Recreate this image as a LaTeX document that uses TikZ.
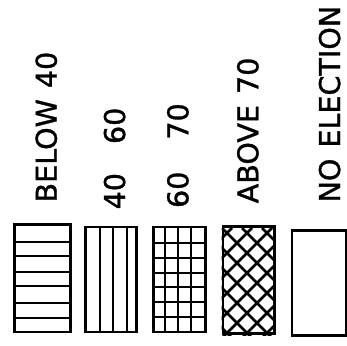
\documentclass[tikz,border=0pt]{standalone}
\usepackage{fontspec}
\setmainfont[FakeBold=1.2]{DejaVu Sans}
\begin{document}
\begin{tikzpicture}[x=1pt,y=1pt,
  legbox/.style={draw=black, line width=2.6pt, inner sep=0pt, anchor=south west},
  hatch/.style={line width=2pt, black},
  lab/.style={rotate=90, anchor=base west, inner sep=0pt, font=\fontsize{28.6}{31}\selectfont}]
\useasboundingbox (0,0) rectangle (347,345);
% boxes
\node[legbox, minimum width=55.7pt, minimum height=107.3pt] (b1) at (13.3,11.7) {};
\node[legbox, minimum width=50.7pt, minimum height=105pt] (b2) at (84.3,11.7) {};
\node[legbox, minimum width=52pt, minimum height=105pt] (b3) at (152.3,11.7) {};
\node[legbox, minimum width=51.3pt, minimum height=107pt] (b4) at (221.7,10) {};
\node[legbox, minimum width=54.3pt, minimum height=105pt] (b5) at (290.7,8.3) {};
% box 1: horizontal lines
\foreach \y in {103.3,89,73.3,59,42.3,27.3}
  \draw[hatch] (13.3,\y) -- (69,\y);
% box 2: vertical lines
\foreach \x in {100,113.3,126.7}
  \draw[hatch] (\x,11.7) -- (\x,116.7);
% box 3: grid
\foreach \x in {165,177.7,191}
  \draw[hatch] (\x,11.7) -- (\x,116.7);
\foreach \y in {102.3,86.7,72.3,58.3,43.3,28.3}
  \draw[hatch] (152.3,\y) -- (204.3,\y);
% box 4: cross-hatch
\begin{scope}
  \clip (221.7,10) rectangle (273,117);
  \foreach \k in {-7,...,7}{
    \draw[hatch, line width=2.5pt] (222+20*\k,117) -- ++(130,-130);
    \draw[hatch, line width=2.5pt] (232+20*\k,117) -- ++(-130,-130);
  }
\end{scope}
\node[legbox, minimum width=51.3pt, minimum height=107pt] (b4f) at (221.7,10) {};
% labels
\node[lab] (l1) at (56.7,142.3) {BELOW\hspace{11pt}40};
\node[lab] (l2) at (125,135.4) {40\hspace{29pt}60};
\node[lab] (l3) at (188.3,136.8) {60\hspace{32pt}70};
\node[lab] (l4) at (258.3,141.5) {ABOVE\hspace{11pt}70};
\node[lab] (l5) at (340,142.3) {NO\hspace{11pt}ELECTION};
\end{tikzpicture}
\end{document}
